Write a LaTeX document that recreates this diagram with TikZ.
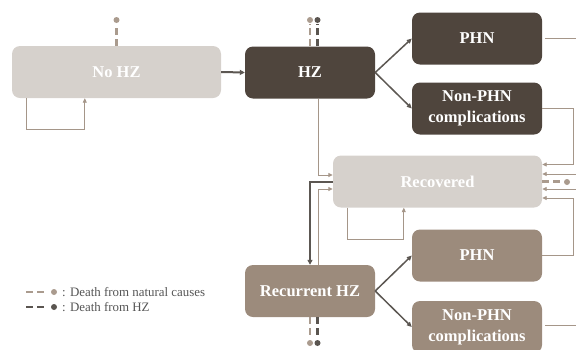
\documentclass[tikz,border=0pt]{standalone}
\usepackage{fontspec}
\setmainfont{Liberation Serif}
\usetikzlibrary{arrows.meta,calc}
\definecolor{lightbox}{RGB}{214,209,204}
\definecolor{darkbox}{RGB}{79,69,61}
\definecolor{midbox}{RGB}{156,139,124}
\definecolor{thincol}{RGB}{165,150,137}
\definecolor{darkline}{RGB}{92,87,82}
\definecolor{natcol}{RGB}{170,155,142}
\definecolor{hzcol}{RGB}{90,85,80}
\definecolor{legtext}{RGB}{85,85,85}
\begin{document}
\begin{tikzpicture}[x=1pt,y=-1pt,
  box/.style={rounded corners=8pt, inner sep=0pt, text=white,
    font=\fontsize{16.5}{21}\selectfont\bfseries, align=center,
    minimum height=52pt},
  widebox/.style={box, minimum width=209pt, fill=lightbox},
  hzbox/.style={box, minimum width=130pt, fill=darkbox},
  recbox/.style={box, minimum width=130pt, fill=midbox},
  thinline/.style={draw=thincol, line width=0.9pt},
  thinarr/.style={thinline, -{Triangle[length=4.5pt,width=4pt]}},
  thickarr/.style={draw=darkline, line width=2pt, -{Triangle[length=5pt,width=5pt]}},
  midarr/.style={draw=darkline, line width=1.5pt, -{Triangle[length=5pt,width=4.5pt]}},
  natd/.style={draw=natcol, line width=2.5pt, dash pattern=on 7pt off 4pt},
  hzd/.style={draw=hzcol, line width=2.5pt, dash pattern=on 7pt off 4pt},
  legend/.style={anchor=west, inner sep=0pt, text=legtext, font=\fontsize{12.9}{14}\selectfont}
]
\useasboundingbox (0,0) rectangle (576,349);
\clip (0,0) rectangle (576,349);

% nodes
\node[widebox] (NoHZ) at (116.5,72) {No HZ};
\node[hzbox]   (HZ)   at (310,72.5) {HZ};
\node[hzbox]   (PHN1) at (477,38.5) {PHN};
\node[hzbox]   (NP1)  at (477,108.5) {Non-PHN\\complications};
\node[widebox] (Rec)  at (437.5,181.5) {Recovered};
\node[recbox]  (RHZ)  at (310,291) {Recurrent HZ};
\node[recbox]  (PHN2) at (477,255.5) {PHN};
\node[recbox]  (NP2)  at (477,327) {Non-PHN\\complications};

% coordinates at the cut edge and death dots
\coordinate (edge) at (578,0);
\coordinate (in1) at (578,174);
\coordinate (in2) at (578,189);
\coordinate (d0) at (116.5,20);
\coordinate (d1a) at (310,20);
\coordinate (d1b) at (317.5,20);
\coordinate (d2a) at (310,343);
\coordinate (d2b) at (317.5,343);
\coordinate (dR) at (567,182);

% main transitions
\draw[thickarr] (NoHZ.east) -- (HZ.west);
\draw[midarr] (HZ.east) -- (PHN1.west);
\draw[midarr] (HZ.east) -- (NP1.west);
\draw[midarr] (RHZ.east) -- (PHN2.west);
\draw[midarr] (RHZ.east) -- (NP2.west);

% self loops
\draw[thinarr] ($(NoHZ.south west)+(15,0)$) -- ++(0,31) -| ($(NoHZ.south west)+(73,0)$);
\draw[thinarr] ($(Rec.south west)+(15,0)$) -- ++(0,32) -| ($(Rec.south west)+(71,0)$);

% to and from Recovered
\draw[thinarr] ($(HZ.south)+(8,0)$) |- ($(Rec.west)+(0,-6.5)$);
\draw[thickarr] (Rec.west) -| (RHZ.north);
\draw[thinarr] ($(RHZ.north)+(8,0)$) |- ($(Rec.west)+(0,7.5)$);
\draw[thinarr] (NP1.east) -- ++(31,0) |- ($(Rec.east)+(0,-17)$);
\draw[thinarr] (PHN2.east) -- ++(31,0) |- ($(Rec.east)+(0,16.5)$);
\draw[thinarr] (in1) -- (Rec.east |- in1);
\draw[thinarr] (in2) -- (Rec.east |- in2);
\draw[thinline] ($(PHN1.east)+(3,0)$) -- (PHN1.east -| edge);
\draw[thinline] ($(NP2.east)+(3,-2)$) -- ($(NP2.east -| edge)+(0,-2)$);

% deaths
\draw[natd] (NoHZ.north) -- ($(d0)+(0,4)$);
\fill[natcol] (d0) circle (3pt);
\draw[natd] (HZ.north -| d1a) -- ($(d1a)+(0,4)$);
\fill[natcol] (d1a) circle (3pt);
\draw[hzd] (HZ.north -| d1b) -- ($(d1b)+(0,4)$);
\fill[hzcol] (d1b) circle (3pt);
\draw[natd] (RHZ.south -| d2a) -- ($(d2a)+(0,-4)$);
\fill[natcol] (d2a) circle (3pt);
\draw[hzd] (RHZ.south -| d2b) -- ($(d2b)+(0,-4)$);
\fill[hzcol] (d2b) circle (3pt);
\draw[natd] (Rec.east) -- ($(Rec.east -| dR)+(-4,0)$);
\fill[natcol] (dR) circle (3pt);

% legend
\coordinate (l1) at (26,292);
\coordinate (l2) at (26,307);
\draw[natd] (l1) -- ++(18,0);
\fill[natcol] ($(l1)+(28,0)$) circle (3pt);
\node[legend] (t1) at ($(l1)+(36,0)$) {: Death from natural causes};
\draw[hzd] (l2) -- ++(18,0);
\fill[hzcol] ($(l2)+(28,0)$) circle (3pt);
\node[legend] (t2) at ($(l2)+(36,0)$) {: Death from HZ};
\end{tikzpicture}
\end{document}
